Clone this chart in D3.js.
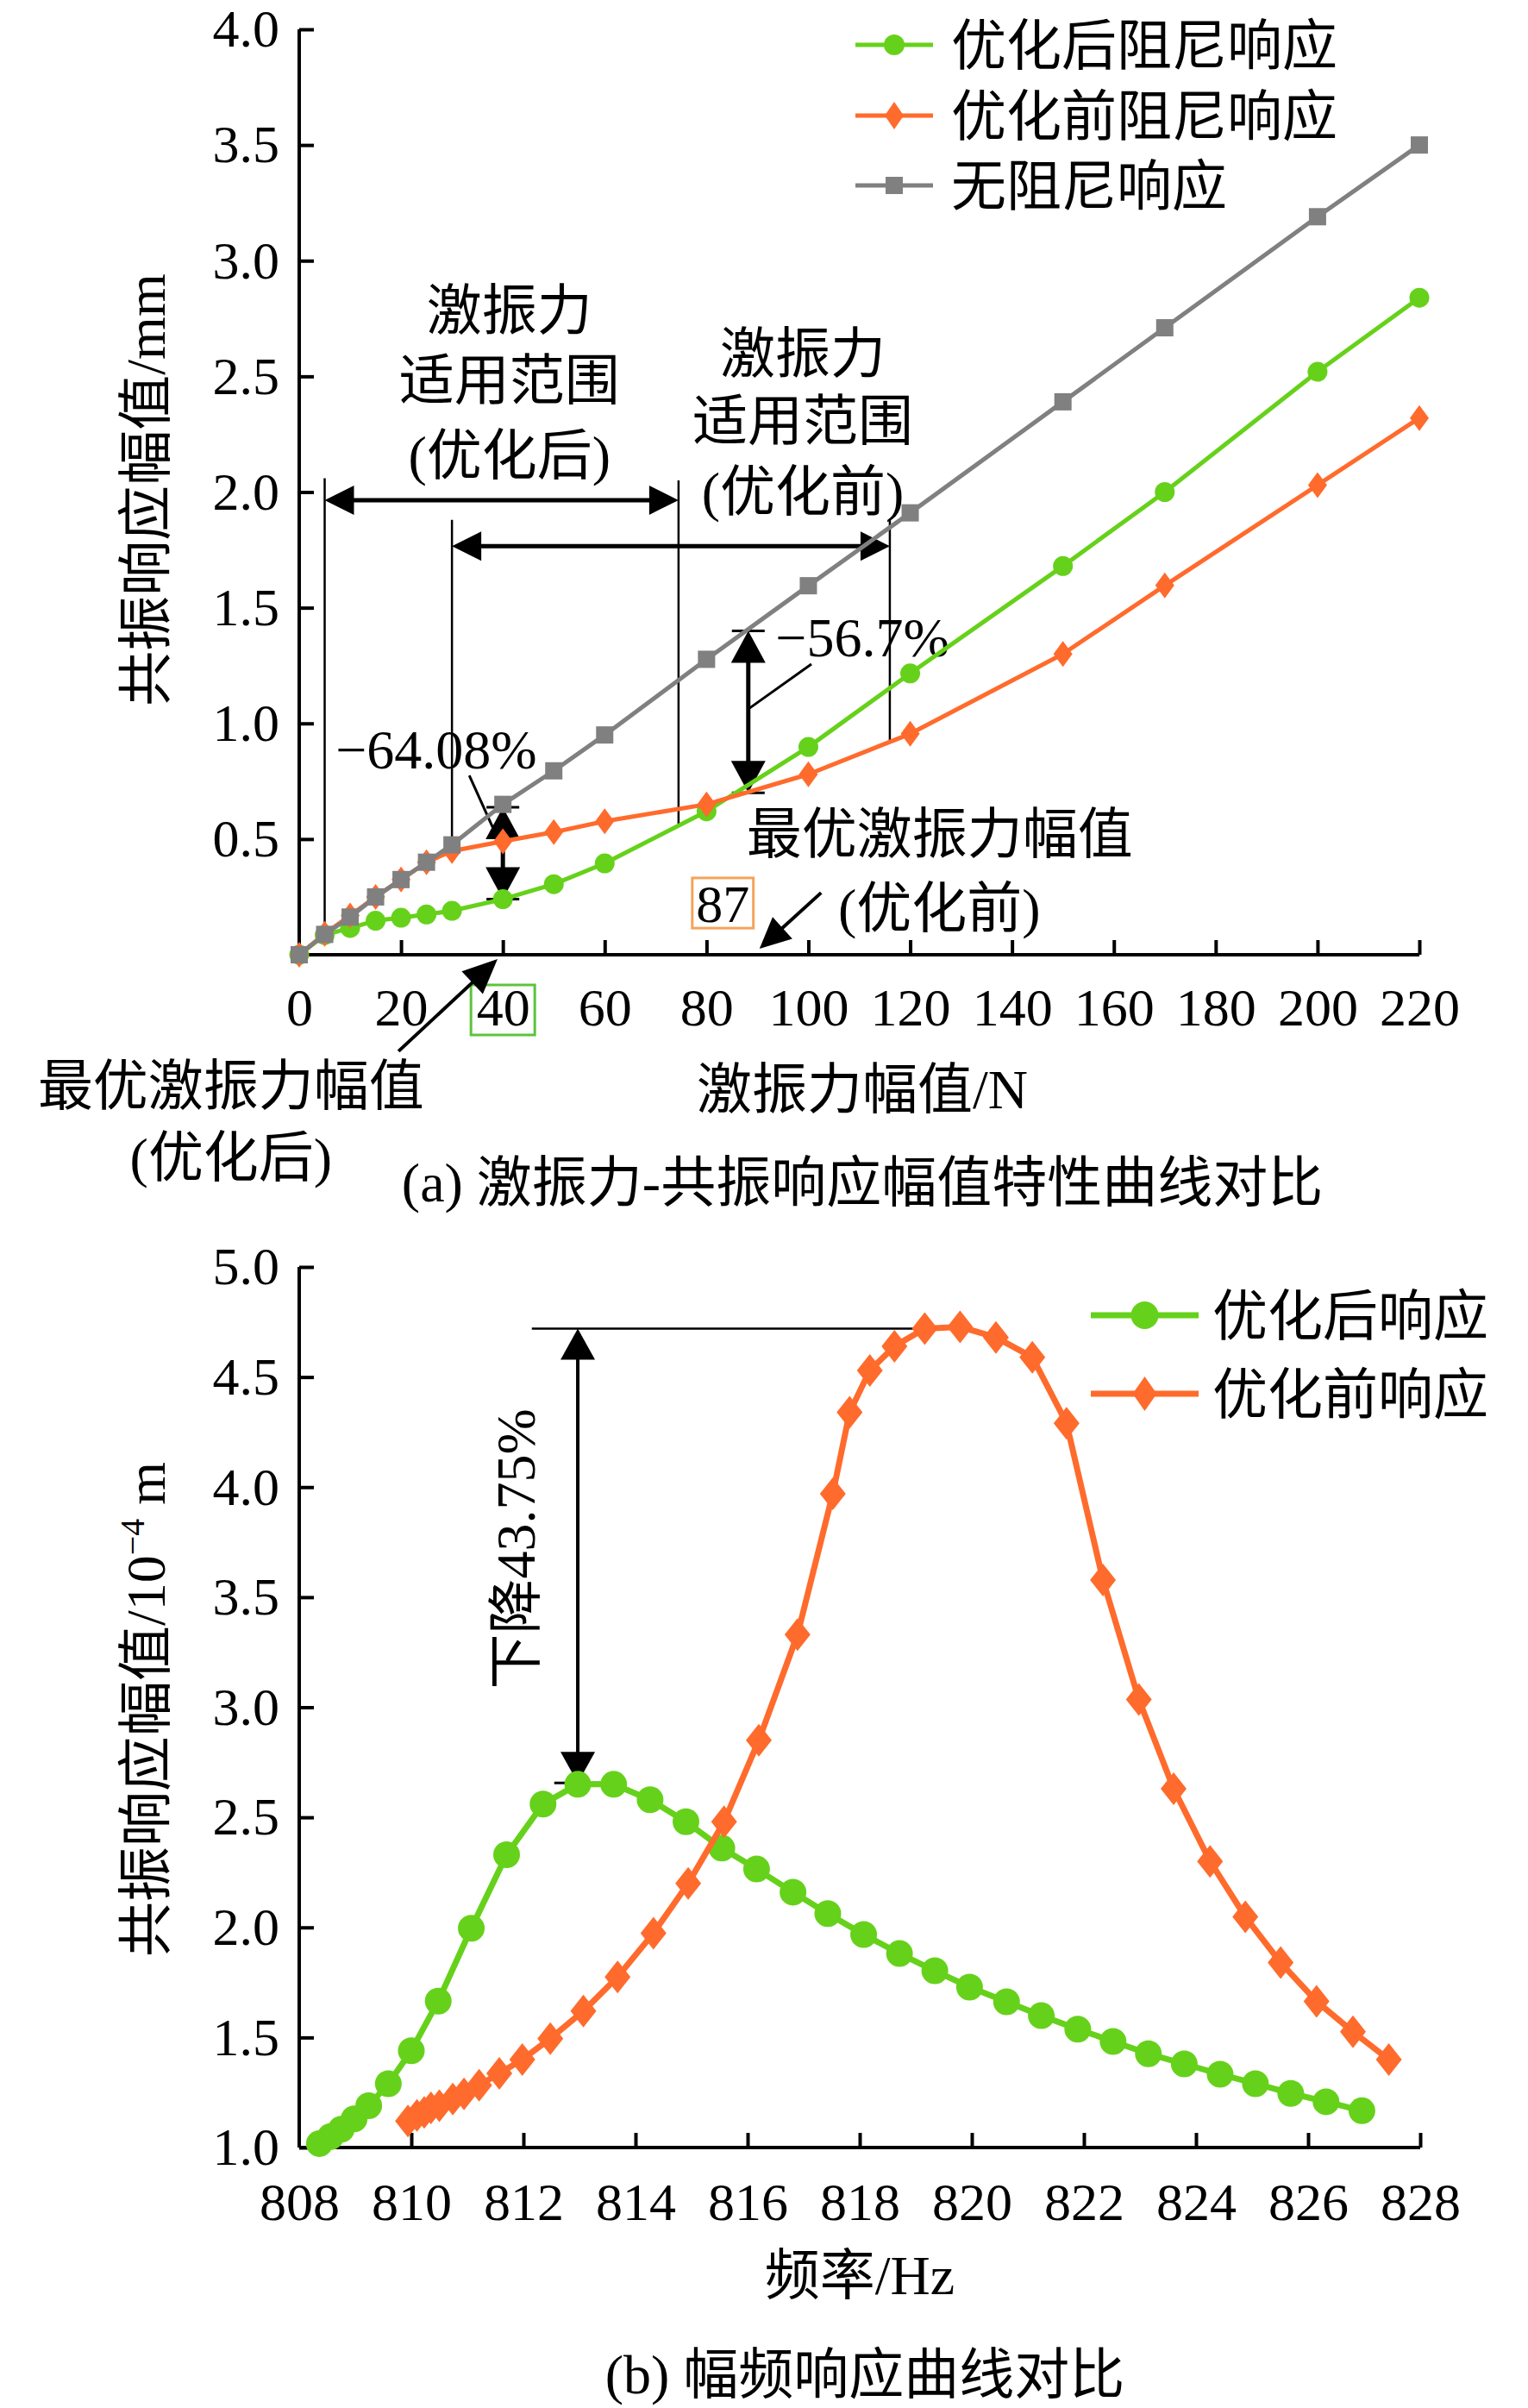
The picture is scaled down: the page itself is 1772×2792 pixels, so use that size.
<!DOCTYPE html>
<html>
<head>
<meta charset="utf-8">
<script src="https://cdn.jsdelivr.net/npm/d3@7"></script>
<style>
    body { margin: 0; background: #fff; }
    svg text { font-family: "Liberation Serif", "Times New Roman", "Noto Sans CJK SC", serif; fill: #000; }
</style>
</head>
<body>
<svg id="chart" width="1772" height="2792"></svg>
<script>
// ---- (a) excitation force vs resonance amplitude ----
const forceLevels = [0, 5, 10, 15, 20, 25, 30, 40, 50, 60, 80, 100, 120, 150, 170, 200, 220]
const ampOptimizedA = [0, 0.085, 0.116, 0.147, 0.16, 0.174, 0.19, 0.24, 0.305, 0.395, 0.62, 0.898, 1.216, 1.68, 2.0, 2.52, 2.84]
const ampOriginalA = [0, 0.09, 0.17, 0.25, 0.325, 0.40, 0.448, 0.49, 0.53, 0.577, 0.65, 0.78, 0.955, 1.30, 1.596, 2.03, 2.32]
const ampUndampedA = [0, 0.088, 0.163, 0.25, 0.325, 0.40, 0.475, 0.65, 0.795, 0.95, 1.277, 1.595, 1.91, 2.39, 2.71, 3.19, 3.50]
const forceTicks = [0, 20, 40, 60, 80, 100, 120, 140, 160, 180, 200, 220]
const ampTicksA = [0.5, 1.0, 1.5, 2.0, 2.5, 3.0, 3.5, 4.0]
const legendA = ["优化后阻尼响应", "优化前阻尼响应", "无阻尼响应"]

// ---- (b) amplitude-frequency response ----
const freqOptimized = [808.36, 808.56, 808.75, 808.98, 809.24, 809.59, 810.0, 810.48, 811.07, 811.70, 812.35, 812.97,
    813.61, 814.26, 814.9, 815.54, 816.16, 816.81, 817.43, 818.07, 818.71, 819.34, 819.96, 820.62, 821.24, 821.89,
    822.52, 823.15, 823.79, 824.43, 825.06, 825.69, 826.32, 826.96]
const ampOptimizedB = [1.018, 1.05, 1.083, 1.13, 1.19, 1.29, 1.44, 1.665, 1.996, 2.33, 2.56, 2.65, 2.65, 2.58, 2.48,
    2.36, 2.265, 2.16, 2.063, 1.968, 1.881, 1.803, 1.729, 1.662, 1.599, 1.538, 1.482, 1.426, 1.38, 1.333, 1.29,
    1.246, 1.208, 1.167]
const freqOriginal = [809.94, 810.10, 810.23, 810.35, 810.5, 810.74, 810.94, 811.21, 811.57, 811.98, 812.48, 813.07,
    813.68, 814.32, 814.94, 815.58, 816.2, 816.89, 817.52, 817.82, 818.18, 818.62, 819.16, 819.79, 820.43, 821.08,
    821.69, 822.34, 822.98, 823.6, 824.25, 824.88, 825.51, 826.15, 826.8, 827.44]
const ampOriginalB = [1.12, 1.146, 1.16, 1.18, 1.19, 1.22, 1.244, 1.283, 1.337, 1.40, 1.495, 1.62, 1.775, 1.974, 2.20,
    2.48, 2.85, 3.33, 3.97, 4.34, 4.53, 4.64, 4.72, 4.728, 4.68, 4.59, 4.29, 3.578, 3.035, 2.63, 2.30, 2.048, 1.84,
    1.664, 1.526, 1.40]
const freqTicks = [808, 810, 812, 814, 816, 818, 820, 822, 824, 826, 828]
const ampTicksB = [1.0, 1.5, 2.0, 2.5, 3.0, 3.5, 4.0, 4.5, 5.0]
const legendB = ["优化后响应", "优化前响应"]

const GREEN = "#66D11A"
const ORANGE = "#FF6B2C"
const GRAY = "#808080"

const svg = d3.select("#chart")

// scales
const xA = d3.scaleLinear().domain([0, 220]).range([347, 1646])
const yA = d3.scaleLinear().domain([0, 4]).range([1107, 34])
const xB = d3.scaleLinear().domain([808, 828]).range([347, 1647])
const yB = d3.scaleLinear().domain([1, 5]).range([2490, 1469])

function styleAxis(g) {
    g.select(".domain").attr("stroke", "#000").attr("stroke-width", 4)
    g.selectAll(".tick line").attr("stroke", "#000").attr("stroke-width", 4)
    g.selectAll(".tick text").style("font-size", "62px").attr("fill", "#000")
}

function drawAxes(x, y, xTicks, yTicks, fmtX, padX) {
    const gx = svg.append("g")
        .attr("transform", `translate(0,${y.range()[0]})`)
        .call(d3.axisBottom(x).tickValues(xTicks).tickFormat(fmtX).tickSize(-17).tickSizeOuter(0).tickPadding(padX))
    styleAxis(gx)
    gx.selectAll(".tick line").filter(d => d === x.domain()[0]).remove()
    const gy = svg.append("g")
        .attr("transform", `translate(${x.range()[0]},0)`)
        .call(d3.axisLeft(y).tickValues(yTicks).tickFormat(d3.format(".1f")).tickSize(-17).tickSizeOuter(0).tickPadding(23))
    styleAxis(gy)
    gy.select(".domain").attr("d", `M0,${y.range()[1]}V${y.range()[0]}`)
    gx.select(".domain").attr("d", `M${x.range()[0]},0H${x.range()[1]}`)
}

function drawMarker(g, shape, cx, cy, size, color) {
    if (shape === "circle") {
        g.append("circle").attr("cx", cx).attr("cy", cy).attr("r", size.r).attr("fill", color)
    } else if (shape === "square") {
        g.append("rect").attr("x", cx - size.s / 2).attr("y", cy - size.s / 2)
            .attr("width", size.s).attr("height", size.s).attr("fill", color)
    } else {
        const w = size.w / 2, h = size.h / 2
        g.append("path").attr("d", `M${cx},${cy - h}L${cx + w},${cy}L${cx},${cy + h}L${cx - w},${cy}Z`)
            .attr("fill", color)
    }
}

function drawSeries(xs, ys, x, y, color, shape, size, width) {
    const g = svg.append("g")
    const pts = xs.map((v, i) => [x(v), y(ys[i])])
    g.append("path").attr("d", d3.line()(pts)).attr("fill", "none")
        .attr("stroke", color).attr("stroke-width", width).attr("stroke-linejoin", "round")
    pts.forEach(p => drawMarker(g, shape, p[0], p[1], size, color))
}

function drawLegend(names, styles, x0, x1, textX, rows, width) {
    names.forEach((name, i) => {
        const st = styles[i], g = svg.append("g")
        g.append("line").attr("x1", x0).attr("x2", x1).attr("y1", rows[i]).attr("y2", rows[i])
            .attr("stroke", st.color).attr("stroke-width", width)
        drawMarker(g, st.shape, (x0 + x1) / 2, rows[i], st.size, st.color)
        g.append("text").attr("x", textX).attr("y", rows[i]).attr("dy", "0.36em")
            .style("font-size", "64px").text(name)
    })
}

const ann = svg.append("g").attr("class", "annotations")

function head(tx, ty, ux, uy, len, half) {
    const bx = tx - ux * len, by = ty - uy * len
    const px = -uy * half, py = ux * half
    ann.append("path").attr("d", `M${tx},${ty}L${bx + px},${by + py}L${bx - px},${by - py}Z`).attr("fill", "#000")
}

function seg(x1, y1, x2, y2, w) {
    ann.append("line").attr("x1", x1).attr("y1", y1).attr("x2", x2).attr("y2", y2)
        .attr("stroke", "#000").attr("stroke-width", w)
}

function arrow(x1, y1, x2, y2, len, half, w, both) {
    const d = Math.hypot(x2 - x1, y2 - y1), ux = (x2 - x1) / d, uy = (y2 - y1) / d
    const s = both ? len * 0.8 : 0
    seg(x1 + ux * s, y1 + uy * s, x2 - ux * len * 0.8, y2 - uy * len * 0.8, w)
    head(x2, y2, ux, uy, len, half)
    if (both) head(x1, y1, -ux, -uy, len, half)
}

function label(txt, x, y, opts = {}) {
    return ann.append("text").attr("x", x).attr("y", y).attr("dy", "0.36em")
        .attr("text-anchor", opts.anchor || "middle")
        .style("font-size", (opts.size || 64) + "px")
        .attr("fill", opts.color || "#000").text(txt)
}

// ===== chart (a) =====
drawAxes(xA, yA, forceTicks, ampTicksA, d3.format("d"), 38)
drawSeries(forceLevels, ampOptimizedA, xA, yA, GREEN, "circle", {r: 11.5}, 5)
drawSeries(forceLevels, ampOriginalA, xA, yA, ORANGE, "diamond", {w: 22, h: 30}, 5)
drawSeries(forceLevels, ampUndampedA, xA, yA, GRAY, "square", {s: 20}, 5)
drawLegend(legendA, [
    {color: GREEN, shape: "circle", size: {r: 12}},
    {color: ORANGE, shape: "diamond", size: {w: 22, h: 32}},
    {color: GRAY, shape: "square", size: {s: 20}}
], 992, 1082, 1103, [52, 134, 215], 5)

// axis titles (a)
svg.append("text").attr("transform", `translate(168,568) rotate(-90)`).attr("dy", "0.36em")
    .attr("text-anchor", "middle").style("font-size", "64px").text("共振响应幅值/mm")
svg.append("text").attr("x", 1000).attr("y", 1262).attr("dy", "0.36em")
    .attr("text-anchor", "middle").style("font-size", "64px").text("激振力幅值/N")
svg.append("text").attr("x", 1000).attr("y", 1370).attr("dy", "0.36em")
    .attr("text-anchor", "middle").style("font-size", "64px").text("(a) 激振力-共振响应幅值特性曲线对比")

// applicable force ranges
const guideLinesA = [
    {f: 5, top: 2.06, bottom: 0.088},
    {f: 30, top: 1.88, bottom: 0.475},
    {f: 74.5, top: 2.05, bottom: 0.56},
    {f: 116, top: 1.88, bottom: 0.92}
]
guideLinesA.forEach(d => seg(xA(d.f), yA(d.top), xA(d.f), yA(d.bottom), 2.5))
const rangeArrowsA = [{from: 5, to: 74.5, level: 1.965}, {from: 30, to: 116, level: 1.766}]
rangeArrowsA.forEach(d => arrow(xA(d.from), yA(d.level), xA(d.to), yA(d.level), 34, 17, 5, true))

// reduction arrows with end caps
const dropArrowsA = [{f: 40, top: 0.637, bottom: 0.24}, {f: 88.2, top: 1.40, bottom: 0.70}]
dropArrowsA.forEach(d => {
    const cx = xA(d.f)
    arrow(cx, yA(d.top), cx, yA(d.bottom), 37, 20, 5, true)
    seg(cx - 19, yA(d.top), cx + 19, yA(d.top), 3)
    seg(cx - 19, yA(d.bottom), cx + 19, yA(d.bottom), 3)
})

// range texts
;[["激振力", 2.787], ["适用范围", 2.485], ["(优化后)", 2.161]].forEach(t => label(t[0], xA(41.3), yA(t[1])))
;[["激振力", 2.604], ["适用范围", 2.31], ["(优化前)", 2.004]].forEach(t => label(t[0], xA(98.9), yA(t[1])))

label("−64.08%", xA(26.9), yA(0.89))
seg(xA(33.4), yA(0.775), xA(39.6), yA(0.473), 3)
label("−56.7%", xA(110.6), yA(1.375))
seg(xA(88.2), yA(1.062), xA(100.6), yA(1.256), 3)

label("最优激振力幅值", xA(125.8), yA(0.525))
label("(优化前)", xA(125.7), yA(0.205))
ann.append("rect").attr("x", xA(77.2)).attr("y", yA(0.332)).attr("width", xA(89.2) - xA(77.2))
    .attr("height", yA(0.115) - yA(0.332)).attr("fill", "none").attr("stroke", "#F4A45C").attr("stroke-width", 3)
label("87", xA(83.2), yA(0.2235), {color: "#F4A45C", size: 62})
arrow(xA(102.5), yA(0.268), xA(90.4), yA(0.026), 36, 17, 4, false)

// optimum after optimization, boxed tick label
ann.append("rect").attr("x", xA(40) - 37).attr("y", 1142).attr("width", 74).attr("height", 58)
    .attr("fill", "none").attr("stroke", "#5CC43C").attr("stroke-width", 3)
arrow(xA(19.5), yA(-0.417), xA(38.95), yA(-0.019), 40, 18, 4, false)
label("最优激振力幅值", xA(-13.4), 1258)
label("(优化后)", xA(-13.4), 1341)

// ===== chart (b) =====
drawAxes(xB, yB, freqTicks, ampTicksB, d3.format("d"), 40)
drawSeries(freqOptimized, ampOptimizedB, xB, yB, GREEN, "circle", {r: 15.5}, 7)
drawSeries(freqOriginal, ampOriginalB, xB, yB, ORANGE, "diamond", {w: 30, h: 38}, 7)
drawLegend(legendB, [
    {color: GREEN, shape: "circle", size: {r: 16}},
    {color: ORANGE, shape: "diamond", size: {w: 28, h: 40}}
], 1265, 1390, 1406, [1525, 1616], 7)

const yTitleB = svg.append("text").attr("transform", `translate(168,1982) rotate(-90)`).attr("dy", "0.36em")
    .attr("text-anchor", "middle").style("font-size", "64px")
yTitleB.append("tspan").text("共振响应幅值/10")
yTitleB.append("tspan").attr("dy", -24).style("font-size", "40px").text("−4")
yTitleB.append("tspan").attr("dy", 24).text(" m")
svg.append("text").attr("x", 997).attr("y", 2637).attr("dy", "0.36em")
    .attr("text-anchor", "middle").style("font-size", "64px").text("频率/Hz")
svg.append("text").attr("x", 1003).attr("y", 2752).attr("dy", "0.36em")
    .attr("text-anchor", "middle").style("font-size", "64px").text("(b) 幅频响应曲线对比")

// peak reduction annotation
const peakBefore = d3.max(ampOriginalB), peakAfter = d3.max(ampOptimizedB)
const markFreq = freqOptimized[ampOptimizedB.indexOf(peakAfter)]
seg(xB(812.15), yB(4.72), xB(819.2), yB(4.72), 2.5)
seg(xB(812.55), yB(2.656), xB(813.38), yB(2.656), 3)
arrow(xB(markFreq), yB(4.72), xB(markFreq), yB(2.656), 36, 20, 4, true)
ann.append("text").attr("transform", `translate(${xB(811.85)},${yB(3.72)}) rotate(-90)`).attr("dy", "0.36em")
    .attr("text-anchor", "middle").style("font-size", "64px").text("下降43.75%")
</script>
</body>
</html>
